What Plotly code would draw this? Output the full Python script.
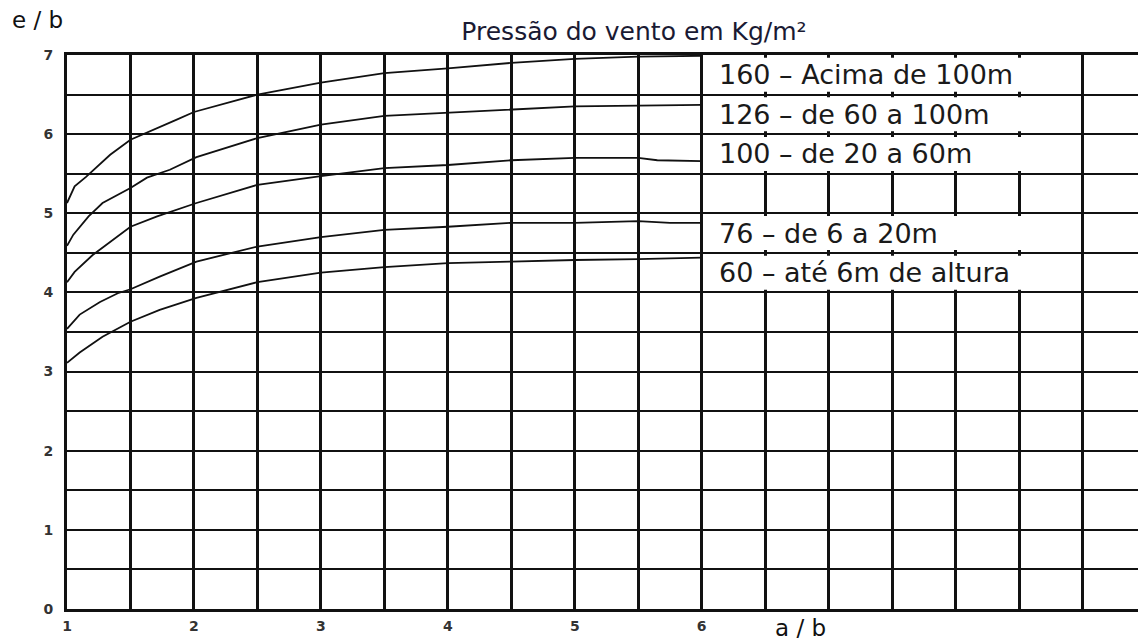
import plotly.graph_objects as go

# ---- data ----
pressures = [160, 126, 100, 76, 60]
ranges_desc = ["Acima de 100m", "de 60 a 100m", "de 20 a 60m", "de 6 a 20m", "até 6m de altura"]

x_160 = [1, 1.06, 1.15, 1.24, 1.34, 1.5, 1.68, 1.86, 2, 2.5, 3, 3.5, 4, 4.5, 5, 5.5, 6]
y_160 = [5.13, 5.34, 5.46, 5.59, 5.74, 5.93, 6.06, 6.18, 6.28, 6.5, 6.65, 6.77, 6.83, 6.9, 6.95, 6.98, 6.99]

x_126 = [1, 1.05, 1.17, 1.28, 1.5, 1.63, 1.81, 2.02, 2.5, 3, 3.5, 4, 4.5, 5, 5.5, 6]
y_126 = [4.59, 4.73, 4.96, 5.13, 5.32, 5.45, 5.55, 5.71, 5.95, 6.12, 6.23, 6.27, 6.31, 6.35, 6.36, 6.37]

x_100 = [1, 1.06, 1.2, 1.36, 1.5, 1.71, 2.02, 2.5, 3, 3.5, 4, 4.5, 5, 5.5, 5.65, 6]
y_100 = [4.13, 4.26, 4.47, 4.66, 4.83, 4.96, 5.13, 5.36, 5.47, 5.57, 5.61, 5.67, 5.7, 5.7, 5.67, 5.66]

x_76 = [1, 1.1, 1.26, 1.4, 1.5, 1.73, 2.02, 2.5, 3, 3.5, 4, 4.5, 5, 5.5, 5.75, 6]
y_76 = [3.54, 3.72, 3.88, 3.99, 4.04, 4.2, 4.39, 4.58, 4.7, 4.79, 4.83, 4.88, 4.88, 4.9, 4.88, 4.88]

x_60 = [1, 1.1, 1.28, 1.5, 1.73, 2.02, 2.5, 3, 3.5, 4, 4.5, 5, 5.5, 6]
y_60 = [3.11, 3.24, 3.44, 3.63, 3.78, 3.93, 4.13, 4.25, 4.32, 4.37, 4.39, 4.41, 4.42, 4.44]

x_tick_labels = ["1", "2", "3", "4", "5", "6"]
y_tick_labels = ["0", "1", "2", "3", "4", "5", "6", "7"]

title_text = "Pressão do vento em Kg/m²"
x_title = "a / b"
y_title = "e / b"

# ---- layout-only settings ----
box_bottoms = [6.5, 6.0, 5.5, 4.5, 4.0]   # grid cells used for the legend boxes
PAGE_OFFSET = 8  # default body margin of the html page

series = [(x_160, y_160), (x_126, y_126), (x_100, y_100), (x_76, y_76), (x_60, y_60)]

fig = go.Figure()
for (xs, ys), p in zip(series, pressures):
    fig.add_trace(go.Scatter(x=xs, y=ys, mode="lines", name=str(p),
                             line=dict(color="#111111", width=1.8),
                             showlegend=False, hoverinfo="skip"))

# ticks every 0.5, labels only on integers
xtv = [1 + 0.5 * i for i in range(17)]
xtt = []
for v in xtv:
    s = str(int(v)) if v == int(v) else ""
    xtt.append(s if s in x_tick_labels else "")
ytv = [0.5 * i for i in range(15)]
ytt = [str(int(v)) if v == int(v) and str(int(v)) in y_tick_labels else "" for v in ytv]

shapes = []
annotations = []
for b, p, d in zip(box_bottoms, pressures, ranges_desc):
    shapes.append(dict(type="rect", xref="x", yref="y", x0=6.02, x1=8.98,
                       y0=b + 0.035, y1=b + 0.465, fillcolor="white",
                       line=dict(width=0), layer="above"))
    annotations.append(dict(x=6.12, y=b + 0.25, xref="x", yref="y",
                            text=f"{p} – {d}", showarrow=False,
                            xanchor="left", yanchor="middle",
                            font=dict(family="DejaVu Sans", size=27, color="#1a1a1a")))

annotations.append(dict(x=-0.0528, y=1.063, xref="paper", yref="paper", text=y_title,
                        showarrow=False, xanchor="left", yanchor="middle",
                        font=dict(family="DejaVu Sans", size=23, color="#111111")))
annotations.append(dict(x=0.654, y=-0.034, xref="paper", yref="paper", text=x_title,
                        showarrow=False, xanchor="left", yanchor="middle",
                        font=dict(family="DejaVu Sans", size=23, color="#111111")))

W, H = 1146 - PAGE_OFFSET, 644 - PAGE_OFFSET
fig.update_layout(
    width=W, height=H,
    margin=dict(l=67 - PAGE_OFFSET, r=0, t=55 - PAGE_OFFSET, b=35),
    paper_bgcolor="white", plot_bgcolor="white",
    title=dict(text=title_text, x=(634 - PAGE_OFFSET) / W, y=1 - (31 - PAGE_OFFSET) / H,
               xref="container", yref="container", xanchor="center", yanchor="middle",
               font=dict(family="DejaVu Sans", size=25, color="#1a1a33")),
    xaxis=dict(range=[1, 9.5], tickmode="array", tickvals=xtv, ticktext=xtt,
               showgrid=True, gridcolor="#111111", gridwidth=3, zeroline=False,
               showline=True, linecolor="#111111", linewidth=3, mirror=True,
               ticks="", ticklabelstandoff=2,
               tickfont=dict(family="DejaVu Sans", size=14, color="#333333", weight="bold")),
    yaxis=dict(range=[0, 7], tickmode="array", tickvals=ytv, ticktext=ytt,
               showgrid=True, gridcolor="#111111", gridwidth=2, zeroline=False,
               showline=True, linecolor="#111111", linewidth=3, mirror=False,
               ticks="", ticklabelstandoff=8,
               tickfont=dict(family="DejaVu Sans", size=14, color="#333333", weight="bold")),
    shapes=shapes,
    annotations=annotations,
)

fig.write_html("out.html")
